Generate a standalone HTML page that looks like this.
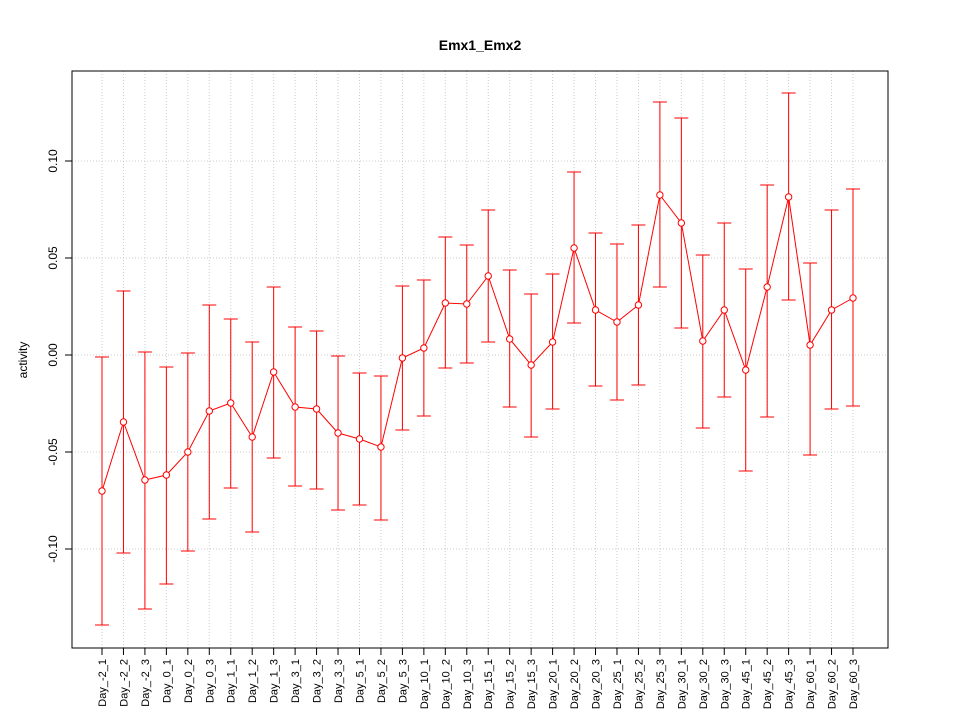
<!DOCTYPE html>
<html><head><style>body{margin:0;background:#fff}</style></head><body>
<svg id="s" width="960" height="720" xmlns="http://www.w3.org/2000/svg" font-family="Liberation Sans, sans-serif">
<rect width="960" height="720" fill="#fff"/>
<text x="480" y="50" text-anchor="middle" font-size="14" font-weight="bold">Emx1_Emx2</text>
<text transform="translate(27,360) rotate(-90)" text-anchor="middle" font-size="12">activity</text>
</svg>
<script>
const s=document.getElementById('s');const NS='http://www.w3.org/2000/svg';
function el(t,a,txt){const e=document.createElementNS(NS,t);for(const k in a)e.setAttribute(k,a[k]);if(txt!==undefined)e.textContent=txt;s.appendChild(e);return e;}
const d=[[491,357,625],[422,291,553],[480,352,609],[475,367,584],[452,353,551],[411,305,519],[403,319,488],[437,342,532],[372,287,458],[407,327,486],[409,331,489],[433,356,510],[439,373,505],[447,376,520],[358,286,430],[348,280,416],[303,237,368],[304,245,363],[276,210,342],[339,270,407],[365,294,437],[342,274,409],[248,172,323],[310,233,386],[322,244,400],[305,225,385],[195,102,287],[223,118,328],[341,255,428],[310,223,397],[370,269,471],[287,185,417],[197,93,300],[345,263,455],[310,210,409],[298,189,406]];
const names=["Day_-2_1","Day_-2_2","Day_-2_3","Day_0_1","Day_0_2","Day_0_3","Day_1_1","Day_1_2","Day_1_3","Day_3_1","Day_3_2","Day_3_3","Day_5_1","Day_5_2","Day_5_3","Day_10_1","Day_10_2","Day_10_3","Day_15_1","Day_15_2","Day_15_3","Day_20_1","Day_20_2","Day_20_3","Day_25_1","Day_25_2","Day_25_3","Day_30_1","Day_30_2","Day_30_3","Day_45_1","Day_45_2","Day_45_3","Day_60_1","Day_60_2","Day_60_3"];
const X=i=>102+i*(853-102)/35;
const ticks=[[0.10,161],[0.05,258],[0.00,355],[-0.05,452],[-0.10,549]];
for(let i=0;i<36;i++)el('line',{x1:X(i),x2:X(i),y1:71,y2:648,stroke:'#ccc','stroke-dasharray':'1,2'});
ticks.forEach(t=>{el('line',{x1:72,x2:888,y1:t[1],y2:t[1],stroke:'#ccc','stroke-dasharray':'1,2'});
el('line',{x1:65,x2:72,y1:t[1],y2:t[1],stroke:'#000'});
el('text',{transform:`translate(57,${t[1]}) rotate(-90)`,'text-anchor':'middle','font-size':12},t[0].toFixed(2));});
el('line',{x1:72,x2:72,y1:161,y2:549,stroke:'#000'});
el('rect',{x:72,y:71,width:816,height:577,fill:'none',stroke:'#000'});
for(let i=0;i<36;i++){const x=X(i);
el('line',{x1:x,x2:x,y1:648,y2:655,stroke:'#000'});
el('text',{transform:`translate(${x+4},659) rotate(-90)`,'text-anchor':'end','font-size':11},names[i]);
const [c,t,b]=d[i];
el('line',{x1:x,x2:x,y1:t,y2:b,stroke:'#f00'});
el('line',{x1:x-7,x2:x+7,y1:t,y2:t,stroke:'#f00'});
el('line',{x1:x-7,x2:x+7,y1:b,y2:b,stroke:'#f00'});}
el('polyline',{points:d.map((v,i)=>X(i)+','+v[0]).join(' '),fill:'none',stroke:'#f00'});
d.forEach((v,i)=>el('circle',{cx:X(i),cy:v[0],r:3.2,fill:'#fff',stroke:'#f00'}));
</script>
</body></html>
